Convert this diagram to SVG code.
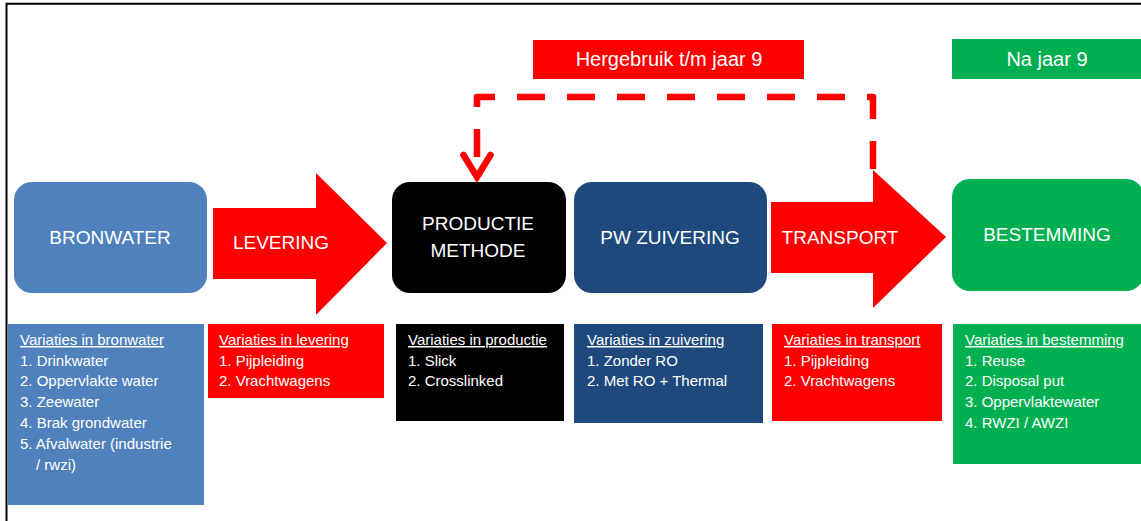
<svg xmlns="http://www.w3.org/2000/svg" width="1141" height="521" viewBox="0 0 1141 521">
<style>
.lbl{font-family:"Liberation Sans",Arial,sans-serif;font-size:19px;fill:#ffffff;text-anchor:middle}
.tag{font-family:"Liberation Sans",Arial,sans-serif;font-size:20px;fill:#ffffff;text-anchor:middle}
.lst{font-family:"Liberation Sans",Arial,sans-serif;font-size:15px;fill:#ffffff}
.hd{text-decoration:underline}
.dash{fill:none;stroke:#ff0000;stroke-width:6.5;stroke-dasharray:28 22;stroke-linejoin:round}
.head{fill:none;stroke:#ff0000;stroke-width:6.5;stroke-linecap:round;stroke-linejoin:miter}
</style>
<rect x="0" y="0" width="1141" height="521" fill="#ffffff"/>
<path d="M6.5 521 V3.8 H1141" fill="none" stroke="#000000" stroke-width="2"/>

<g id="tag-hergebruik">
<rect x="533" y="40" width="271" height="39" fill="#ff0000"/>
<text class="tag" x="669" y="66">Hergebruik t/m jaar 9</text>
</g>
<g id="tag-najaar9">
<rect x="952" y="39" width="189" height="40" fill="#00b050"/>
<text class="tag" x="1047" y="66">Na jaar 9</text>
</g>

<g id="connectors">
<path class="dash" d="M477 157 V97 H873 V170"/>
<polyline class="head" points="463.5,155 477,177 490.5,155"/>
</g>

<g id="bronwater">
<rect x="14" y="182" width="193" height="111" rx="18" fill="#4f81bd"/>
<text class="lbl" x="110" y="244">BRONWATER</text>
</g>
<g id="levering">
<polygon points="213,208 316,208 316,173 387,243 316,315 316,279 213,279" fill="#ff0000"/>
<text class="lbl" x="281" y="249">LEVERING</text>
</g>
<g id="productie">
<rect x="392" y="182" width="174" height="111" rx="18" fill="#000000"/>
<text class="lbl" x="478" y="230">PRODUCTIE</text>
<text class="lbl" x="478" y="257">METHODE</text>
</g>
<g id="zuivering">
<rect x="574" y="182" width="193" height="111" rx="18" fill="#1f497d"/>
<text class="lbl" x="670" y="244">PW ZUIVERING</text>
</g>
<g id="transport">
<polygon points="771,202 873,202 873,170 946,237 873,308 873,273 771,273" fill="#ff0000"/>
<text class="lbl" x="840" y="244">TRANSPORT</text>
</g>
<g id="bestemming">
<rect x="952" y="179" width="192" height="112" rx="18" fill="#00b050"/>
<text class="lbl" x="1047" y="241">BESTEMMING</text>
</g>

<g id="var-bronwater">
<rect x="8" y="324" width="196" height="181" fill="#4f81bd"/>
<text class="lst hd" x="20" y="345">Variaties in bronwater</text>
<text class="lst" x="20" y="366">1. Drinkwater</text>
<text class="lst" x="20" y="386">2. Oppervlakte water</text>
<text class="lst" x="20" y="407">3. Zeewater</text>
<text class="lst" x="20" y="428">4. Brak grondwater</text>
<text class="lst" x="20" y="449">5. Afvalwater (industrie</text>
<text class="lst" x="36" y="470">/ rwzi)</text>
</g>
<g id="var-levering">
<rect x="208" y="324" width="176" height="74" fill="#ff0000"/>
<text class="lst hd" x="219" y="345">Variaties in levering</text>
<text class="lst" x="219" y="366">1. Pijpleiding</text>
<text class="lst" x="219" y="386">2. Vrachtwagens</text>
</g>
<g id="var-productie">
<rect x="396" y="324" width="168" height="97" fill="#000000"/>
<text class="lst hd" x="408" y="345">Variaties in productie</text>
<text class="lst" x="408" y="366">1. Slick</text>
<text class="lst" x="408" y="386">2. Crosslinked</text>
</g>
<g id="var-zuivering">
<rect x="574" y="324" width="189" height="99" fill="#1f497d"/>
<text class="lst hd" x="587" y="345">Variaties in zuivering</text>
<text class="lst" x="587" y="366">1. Zonder RO</text>
<text class="lst" x="587" y="386">2. Met RO + Thermal</text>
</g>
<g id="var-transport">
<rect x="772" y="324" width="170" height="97" fill="#ff0000"/>
<text class="lst hd" x="784" y="345">Variaties in transport</text>
<text class="lst" x="784" y="366">1. Pijpleiding</text>
<text class="lst" x="784" y="386">2. Vrachtwagens</text>
</g>
<g id="var-bestemming">
<rect x="953" y="324" width="188" height="140" fill="#00b050"/>
<text class="lst hd" x="965" y="345">Variaties in bestemming</text>
<text class="lst" x="965" y="366">1. Reuse</text>
<text class="lst" x="965" y="386">2. Disposal put</text>
<text class="lst" x="965" y="407">3. Oppervlaktewater</text>
<text class="lst" x="965" y="428">4. RWZI / AWZI</text>
</g>
</svg>
